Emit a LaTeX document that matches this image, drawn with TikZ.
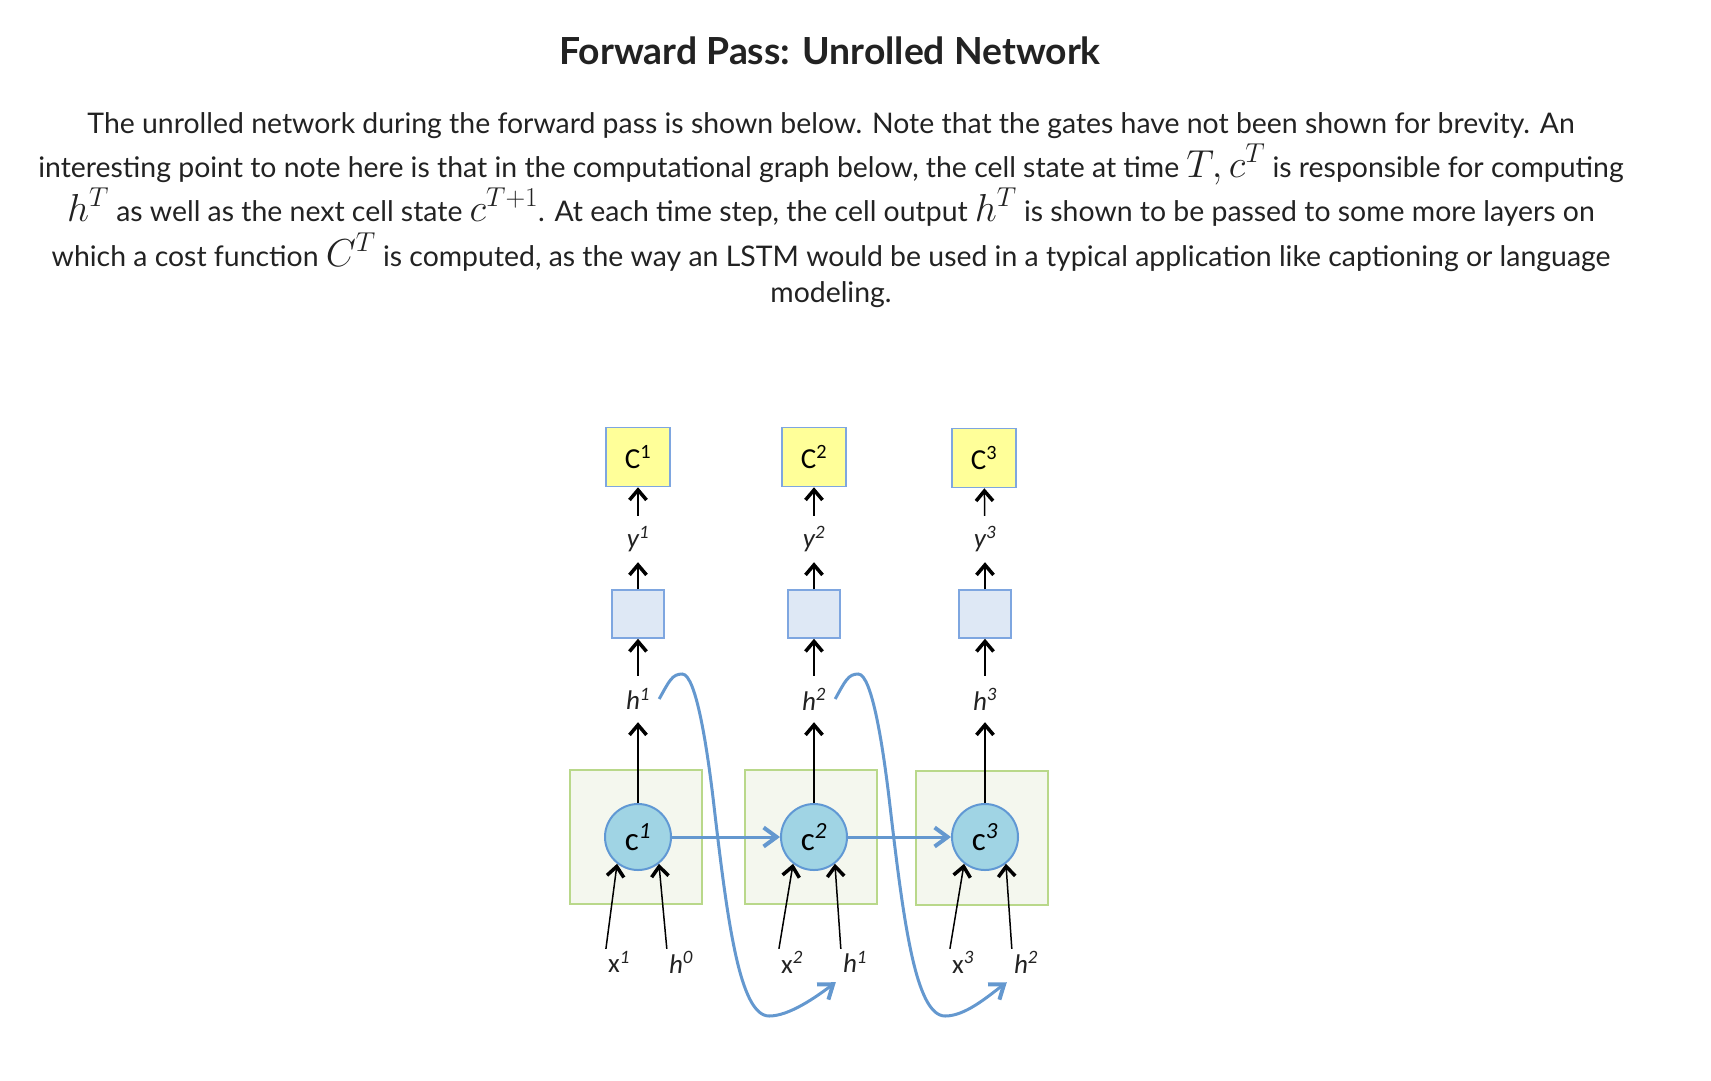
\RequirePackage{fix-cm}
\documentclass[tikz,border=0pt]{standalone}
\usepackage{fontspec}
\setmainfont{Lato}
\newfontfamily\labelfont{Carlito}
\usepackage{tikz}
\usetikzlibrary{arrows.meta}
\definecolor{textcol}{RGB}{34,34,34}
\definecolor{costfill}{RGB}{255,255,153}
\definecolor{boxline}{RGB}{126,166,224}
\definecolor{layerfill}{RGB}{222,232,245}
\definecolor{cellfill}{RGB}{244,247,238}
\definecolor{cellline}{RGB}{185,216,138}
\definecolor{statefill}{RGB}{160,212,228}
\definecolor{stateline}{RGB}{96,152,212}
\definecolor{flow}{RGB}{100,152,207}
\newcommand{\mth}[1]{{\fontsize{39}{39}\selectfont$#1$}}
\tikzset{
         bodyline/.style={anchor=base,text=textcol,inner sep=0pt,font=\fontsize{28.4}{34}\selectfont},
         costbox/.style={draw=boxline,fill=costfill,line width=1.5pt,minimum width=64pt,minimum height=59pt,inner sep=0pt,font=\labelfont\fontsize{29}{29}\selectfont},
         layerbox/.style={draw=boxline,fill=layerfill,line width=1.5pt,minimum width=52pt,minimum height=48pt,inner sep=0pt},
         cellbox/.style={draw=cellline,fill=cellfill,line width=1.5pt,minimum width=132pt,minimum height=134pt,inner sep=0pt},
         cellstate/.style={circle,draw=stateline,fill=statefill,line width=2pt,minimum size=66pt,inner sep=0pt,font=\labelfont\fontsize{33}{33}\selectfont},
         lbl/.style={inner sep=0pt,minimum height=46pt,text=textcol,font=\labelfont\fontsize{27}{27}\selectfont},
         inlbl/.style={inner sep=2pt,text=textcol,font=\labelfont\fontsize{27}{27}\selectfont},
         feed/.style={line width=1.5pt,-{Straight Barb[length=10pt,width=17pt,line width=3.5pt]}},
         flowarrow/.style={flow,line width=3pt,-{Straight Barb[length=13pt,width=19pt,line width=4pt]}}
        }
\begin{document}
\begin{tikzpicture}[x=1pt,y=1pt]
      \useasboundingbox (0,0) rectangle (1711,-1080); % page
      \node[anchor=base,text=textcol,font=\bfseries\fontsize{37.3}{37}\selectfont] (title) at (830,-64) {Forward Pass: Unrolled Network}; % title
      \node[bodyline] (line1) at (831,-133) {The unrolled network during the forward pass is shown below. Note that the gates have not been shown for brevity. An};
      \node[bodyline] (line2) at (831,-177) {interesting point to note here is that in the computational graph below, the cell state at time \mth{T, c^T} is responsible for computing};
      \node[bodyline] (line3) at (831,-221) {\mth{h^T} as well as the next cell state \mth{c^{T+1}}. At each time step, the cell output \mth{h^T} is shown to be passed to some more layers on};
      \node[bodyline] (line4) at (831,-266) {which a cost function \mth{C^T} is computed, as the way an LSTM would be used in a typical application like captioning or language};
      \node[bodyline] (line5) at (831,-302) {modeling.};
      % cells
      \node[cellbox] (boxA) at (636,-837) {};
      \node[cellbox] (boxB) at (811,-837) {};
      \node[cellbox] (boxC) at (982,-838) {};
      \node[cellstate] (cA) at (638,-837) {c\textsuperscript{\textit{1}}};
      \node[cellstate] (cB) at (814,-837) {c\textsuperscript{\textit{2}}};
      \node[cellstate] (cC) at (985,-837) {c\textsuperscript{\textit{3}}};
      % outputs
      \node[lbl] (houtA) at (638,-699) {\textit{h\textsuperscript{1}}};
      \node[lbl] (houtB) at (814,-699) {\textit{h\textsuperscript{2}}};
      \node[lbl] (houtC) at (985,-699) {\textit{h\textsuperscript{3}}};
      \node[layerbox] (layA) at (638,-614) {};
      \node[layerbox] (layB) at (814,-614) {};
      \node[layerbox] (layC) at (985,-614) {};
      \node[lbl] (yA) at (638,-539) {\textit{y\textsuperscript{1}}};
      \node[lbl] (yB) at (814,-539) {\textit{y\textsuperscript{2}}};
      \node[lbl] (yC) at (985,-539) {\textit{y\textsuperscript{3}}};
      \node[costbox] (costA) at (638,-457) {C\textsuperscript{1}};
      \node[costbox] (costB) at (814,-457) {C\textsuperscript{2}};
      \node[costbox] (costC) at (984,-458) {C\textsuperscript{3}};
      % inputs
      \node[inlbl] (xA) at (619,-962) {x\textsuperscript{\textit{1}}};
      \node[inlbl] (hinA) at (681,-962) {\textit{h\textsuperscript{0}}};
      \node[inlbl] (xB) at (792,-962) {x\textsuperscript{\textit{2}}};
      \node[inlbl] (hinB) at (855,-962) {\textit{h\textsuperscript{1}}};
      \node[inlbl] (xC) at (963,-962) {x\textsuperscript{\textit{3}}};
      \node[inlbl] (hinC) at (1026,-962) {\textit{h\textsuperscript{2}}};
      % wiring
      \draw[feed] (cA) -- (houtA); \draw[feed] (houtA) -- (layA); \draw[feed] (layA) -- (yA); \draw[feed] (yA) -- (costA);
      \draw[feed] (cB) -- (houtB); \draw[feed] (houtB) -- (layB); \draw[feed] (layB) -- (yB); \draw[feed] (yB) -- (costB);
      \draw[feed] (cC) -- (houtC); \draw[feed] (houtC) -- (layC); \draw[feed] (layC) -- (yC); \draw[feed] (yC) -- (costC);
      \draw[feed] (xA.north west) -- (cA.232); \draw[feed] (hinA.north west) -- (cA.308);
      \draw[feed] (xB.north west) -- (cB.232); \draw[feed] (hinB.north west) -- (cB.308);
      \draw[feed] (xC.north west) -- (cC.232); \draw[feed] (hinC.north west) -- (cC.308);
      \draw[flowarrow] (cA) -- (cB); % cell state
      \draw[flowarrow] (cB) -- (cC); % cell state
      \draw[flowarrow] ([xshift=9pt]houtA.east) .. controls +(10,18) and +(-10,0) .. ++(23,25) .. controls +(14,0) and +(-6,50) .. ++(31,-125) .. controls +(14,-120) and +(-30,0) .. ++(56,-217) .. controls +(20,0) and +(-20,-15) .. ([shift={(-5pt,-7pt)}]hinB.south west); % h1 fed back
      \draw[flowarrow] ([xshift=9pt]houtB.east) .. controls +(10,18) and +(-10,0) .. ++(23,25) .. controls +(14,0) and +(-6,50) .. ++(31,-125) .. controls +(14,-120) and +(-30,0) .. ++(56,-217) .. controls +(20,0) and +(-20,-15) .. ([shift={(-5pt,-7pt)}]hinC.south west); % h2 fed back
   \end{tikzpicture}
\end{document}
